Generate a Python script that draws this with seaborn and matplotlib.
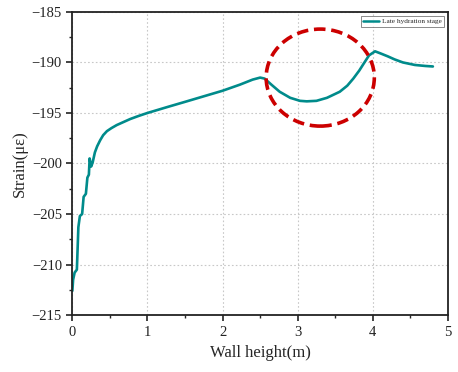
import matplotlib
matplotlib.use("Agg")
import matplotlib.pyplot as plt
from matplotlib.patches import Ellipse
from matplotlib.ticker import MultipleLocator
import seaborn as sns
import pandas as pd

# Strain profile along the wall height (late hydration stage)
height_m = [0.00, 0.01, 0.03, 0.06, 0.08, 0.10, 0.13, 0.15, 0.18, 0.20,
            0.22, 0.23, 0.25, 0.27, 0.30, 0.33, 0.37, 0.41, 0.46, 0.52,
            0.59, 0.68, 0.77, 0.88, 1.00, 1.27, 1.50, 1.75, 2.00, 2.23,
            2.40, 2.50, 2.56, 2.65, 2.76, 2.90, 3.03, 3.12, 3.25, 3.39,
            3.56, 3.66, 3.74, 3.82, 3.88, 3.95, 4.03, 4.10, 4.20, 4.29,
            4.40, 4.56, 4.70, 4.80]
strain_ue = [-212.6, -211.5, -210.8, -210.5, -206.3, -205.2, -205.0, -203.3, -203.0, -201.4,
             -201.1, -199.5, -200.3, -199.9, -198.9, -198.3, -197.7, -197.2, -196.8, -196.5,
             -196.2, -195.9, -195.6, -195.3, -195.0, -194.4, -193.9, -193.35, -192.8, -192.2,
             -191.7, -191.5, -191.6, -192.2, -192.9, -193.5, -193.8, -193.85, -193.8, -193.5,
             -192.9, -192.3, -191.6, -190.8, -190.1, -189.3, -188.9, -189.1, -189.4, -189.7,
             -190.0, -190.25, -190.35, -190.4]
series_name = "Late hydration stage"

x_ticks = [0, 1, 2, 3, 4, 5]
y_ticks = [-215, -210, -205, -200, -195, -190, -185]

df = pd.DataFrame({"Wall height(m)": height_m, "Strain": strain_ue,
                   "stage": series_name})

sns.set_style("ticks")
plt.rcParams["font.family"] = ["Liberation Serif", "DejaVu Serif"]
plt.rcParams["mathtext.fontset"] = "stix"

fig = plt.figure(figsize=(4.58, 3.72), dpi=100)
ax = fig.add_axes([0.158, 0.153, 0.820, 0.815])

sns.lineplot(data=df, x="Wall height(m)", y="Strain", hue="stage",
             palette=["#008b8b"], linewidth=1.9, ax=ax, sort=False)

# highlighted region around the trough
ax.add_patch(Ellipse((3.30, -191.5), 1.44, 9.6, fill=False,
                     edgecolor="#cc0000", linewidth=2.6,
                     linestyle=(0, (3.2, 1.6)), zorder=5))

ax.set_xlim(0, 5)
ax.set_ylim(-215, -185)
ax.set_xticks(x_ticks)
ax.set_yticks(y_ticks)
ax.set_yticklabels([f"\u2212{abs(v)}" for v in y_ticks])
ax.xaxis.set_minor_locator(MultipleLocator(0.5))
ax.yaxis.set_minor_locator(MultipleLocator(2.5))
ax.tick_params(which="major", direction="out", length=4, width=1.2,
               labelsize=10.5, colors="#222222")
ax.tick_params(which="minor", direction="out", length=2.5, width=1.0)
ax.tick_params(top=False, right=False, which="both")

ax.grid(True, which="major", linestyle=(0, (1.5, 2)), color="#c8c8c8",
        linewidth=0.8)
for s in ax.spines.values():
    s.set_linewidth(1.3)
    s.set_color("#222222")

ax.set_xlabel("Wall height(m)", fontsize=12, labelpad=5)
ax.set_ylabel("Strain(\u03bc\u03b5)", fontsize=12, labelpad=3)

leg = ax.legend(loc="upper right", fontsize=5.2, frameon=True,
                fancybox=False, handlelength=2.2, borderpad=0.35,
                handletextpad=0.4, borderaxespad=0.5)
leg.get_frame().set_edgecolor("#555555")
leg.get_frame().set_linewidth(0.6)
for h in leg.get_lines():
    h.set_linewidth(1.8)

fig.savefig("out.png", dpi=100)
